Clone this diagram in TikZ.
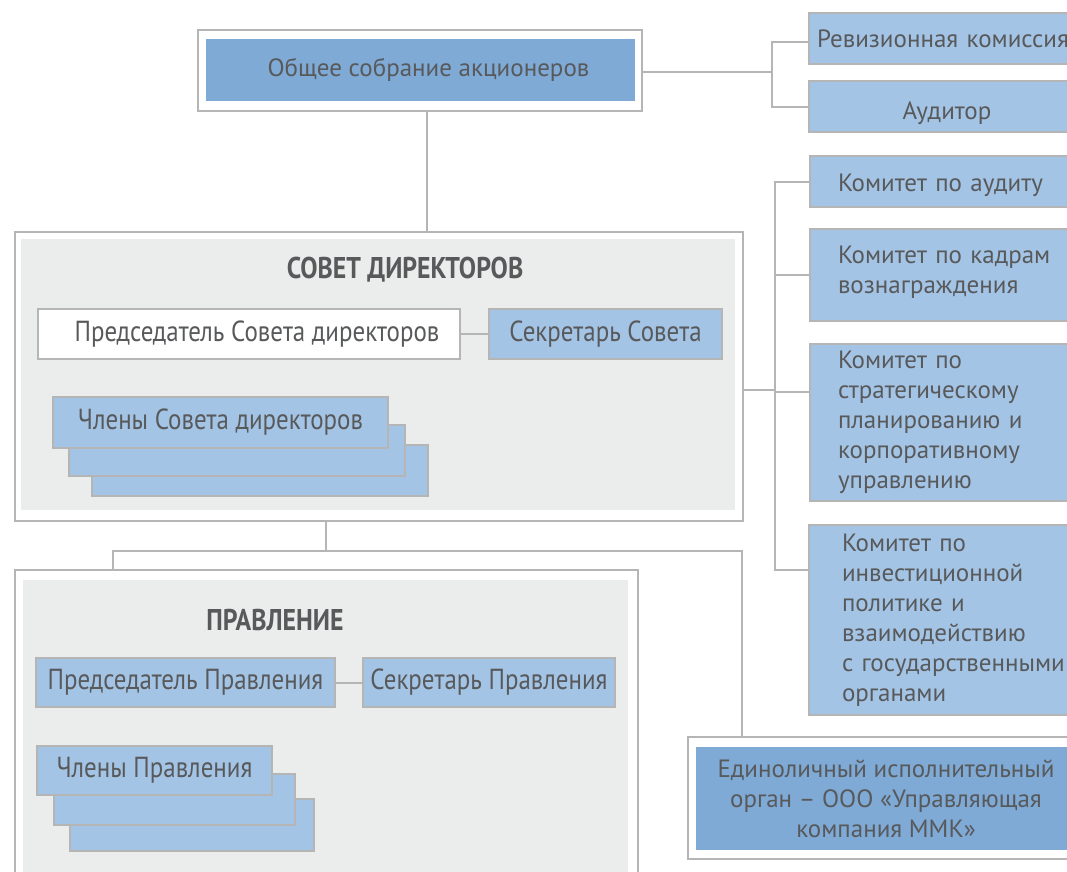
\documentclass[tikz,border=0pt]{standalone}
\usepackage{fontspec}
\setmainfont{PT Sans}
\newfontfamily\narrowfont[FakeStretch=0.86]{PT Sans}
\definecolor{boxgray}{HTML}{B5B5B5}
\definecolor{panelgray}{HTML}{EBECEC}
\definecolor{lightblue}{HTML}{A4C4E5}
\definecolor{darkblue}{HTML}{7FAAD6}
\definecolor{textgray}{HTML}{58595B}
\newcommand{\mainsize}{\fontsize{25}{30}\selectfont}
\newcommand{\narrowsize}{\narrowfont\fontsize{29}{30}\selectfont}

\begin{document}
\begin{tikzpicture}[x=1pt, y=-1pt,
    conn/.style={draw=boxgray, line width=2pt},
    box/.style={draw=boxgray, line width=2pt, anchor=north west, inner sep=0pt, text=textgray},
    bluebox/.style={box, fill=lightblue},
    panel/.style={anchor=north west, inner sep=0pt, fill=panelgray},
    kom/.style={bluebox, inner xsep=28pt, text width=250pt, align=left, font=\mainsize},
    heading/.style={text=textgray, font=\narrowfont\bfseries\fontsize{30}{30}\selectfont}]
    \path[use as bounding box, fill=white] (0,0) rectangle (1067,871);

    % Общее собрание
    \node[box, fill=white, minimum width=444pt, minimum height=81pt] (osaframe) at (197,29) {};
    \node[box, draw=none, fill=darkblue, minimum width=429pt, minimum height=62pt, font=\mainsize] (osa) at (205,38) {\hspace*{16pt}Общее собрание акционеров};

    % Ревизионная комиссия и аудитор
    \node[bluebox, minimum height=51pt, inner xsep=8pt, text width=262pt, align=left, font=\mainsize] (rev) at (808,12) {Ревизионная комиссия};
    \node[bluebox, minimum width=276pt, minimum height=51pt, font=\mainsize] (aud) at (808,80) {\rule{0pt}{32pt}Аудитор};

    % Комитеты
    \node[kom, minimum height=51pt] (kaudit) at (809,155) {\rule{0pt}{26pt}Комитет по аудиту};
    \node[kom, minimum height=92pt] (kkadr) at (809,228) {Комитет по кадрам\\вознаграждения\rule[-10pt]{0pt}{0pt}};
    \node[kom, minimum height=157pt] (kstrat) at (809,343) {Комитет по\\стратегическому\\планированию и\\корпоративному\\управлению};
    \node[kom, inner xsep=33pt, minimum height=190pt] (kinvest) at (808,524) {Комитет по\\инвестиционной\\политике и\\взаимодействию\\с государственными\\органами};

    % Совет директоров
    \node[box, fill=white, minimum width=728pt, minimum height=289pt] (sovet) at (14,231) {};
    \node[panel, minimum width=714pt, minimum height=271pt] (sovetpanel) at (21,239) {};
    \node[heading] (sovettitle) at (405,270) {СОВЕТ ДИРЕКТОРОВ};
    \node[box, fill=white, minimum width=422pt, minimum height=50pt, font=\narrowsize] (psd) at (37,308) {\hspace*{16pt}Председатель Совета директоров};
    \node[bluebox, minimum width=233pt, minimum height=50pt, font=\narrowsize] (ssd) at (488,308) {Секретарь Совета};
    \node[bluebox, minimum width=336pt, minimum height=51pt] (chsd3) at (91,444) {};
    \node[bluebox, minimum width=336pt, minimum height=51pt] (chsd2) at (68,424) {};
    \node[bluebox, minimum width=335pt, minimum height=51pt, font=\narrowsize] (chsd1) at (52,396) {Члены Совета директоров};

    % Правление
    \node[box, fill=white, minimum width=623pt, minimum height=330pt] (pravl) at (14,569) {};
    \node[panel, minimum width=605pt, minimum height=310pt] (pravlpanel) at (23,580) {};
    \node[heading] (pravltitle) at (275,620) {ПРАВЛЕНИЕ};
    \node[bluebox, minimum width=299pt, minimum height=49pt, font=\narrowsize] (ppr) at (35,657) {Председатель Правления};
    \node[bluebox, minimum width=252pt, minimum height=49pt, font=\narrowsize] (spr) at (362,657) {Секретарь Правления};
    \node[bluebox, minimum width=244pt, minimum height=52pt] (chpr3) at (69,798) {};
    \node[bluebox, minimum width=241pt, minimum height=51pt] (chpr2) at (53,773) {};
    \node[bluebox, minimum width=235pt, minimum height=49pt, font=\narrowsize] (chpr1) at (36,745) {Члены Правления};

    % Единоличный исполнительный орган
    \node[box, fill=white, minimum width=400pt, minimum height=122pt] (edinframe) at (687,736) {};
    \node[box, draw=none, fill=darkblue, minimum width=380pt, minimum height=103pt, align=center, font=\mainsize] (edin) at (695,746) {Единоличный исполнительный\\орган – ООО «Управляющая\\компания ММК»};

    % Связи
    \coordinate (rbus) at (772,72);
    \coordinate (kbus) at (775,390);
    \coordinate (pleft) at (113,551);
    \coordinate (pright) at (742,551);
    \draw[conn] ([xshift=7pt]osaframe.south) -- ([xshift=7pt]osaframe.south |- sovet.north);
    \draw[conn] (osaframe.east |- rbus) -- (rbus);
    \draw[conn] ([yshift=-3pt]rev.west) -| (rbus) |- (aud.west);
    \draw[conn] (sovet.east |- kbus) -- (kbus);
    \draw[conn] (kaudit.west) -| (kbus) |- ([yshift=50pt]kinvest.west);
    \draw[conn] (kkadr.west) -- (kkadr.west -| kbus);
    \draw[conn] ([yshift=31pt]kstrat.west) -- ([yshift=31pt]kstrat.west -| kbus);
    \draw[conn] (psd.east) -- (ssd.west);
    \draw[conn] (ppr.east) -- (spr.west);
    \draw[conn] ([xshift=-53pt]sovet.south) -- ([xshift=-53pt]sovet.south |- pleft);
    \draw[conn] (pleft |- pravl.north) -- (pleft) -- (pright) -- (pright |- edinframe.north);
\end{tikzpicture}
\end{document}
